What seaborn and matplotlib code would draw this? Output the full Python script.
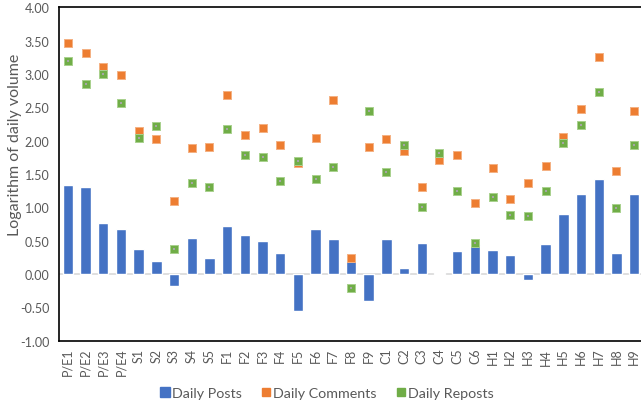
import matplotlib
matplotlib.use("Agg")
import matplotlib.pyplot as plt
import seaborn as sns
import pandas as pd
from matplotlib.lines import Line2D

categories = ["P/E1", "P/E2", "P/E3", "P/E4", "S1", "S2", "S3", "S4", "S5",
              "F1", "F2", "F3", "F4", "F5", "F6", "F7", "F8", "F9",
              "C1", "C2", "C3", "C4", "C5", "C6",
              "H1", "H2", "H3", "H4", "H5", "H6", "H7", "H8", "H9"]
daily_posts = [1.33, 1.30, 0.76, 0.68, 0.37, 0.19, -0.18, 0.54, 0.24,
               0.72, 0.59, 0.49, 0.32, -0.55, 0.67, 0.52, 0.28, -0.40,
               0.52, 0.09, 0.46, 0.02, 0.34, 0.44,
               0.355, 0.28, -0.09, 0.45, 0.90, 1.20, 1.42, 0.32, 1.20]
daily_comments = [3.47, 3.31, 3.10, 2.99, 2.14, 2.03, 1.10, 1.89, 1.91,
                  2.69, 2.08, 2.19, 1.94, 1.66, 2.04, 2.61, 0.235, 1.90,
                  2.02, 1.84, 1.30, 1.71, 1.79, 1.06,
                  1.59, 1.12, 1.36, 1.62, 2.05, 2.47, 3.26, 1.55, 2.45]
daily_reposts = [3.20, 2.85, 3.00, 2.56, 2.04, 2.22, 0.37, 1.37, 1.30,
                 2.18, 1.78, 1.75, 1.40, 1.69, 1.43, 1.61, -0.21, 2.45,
                 1.53, 1.94, 1.01, 1.82, 1.24, 0.46,
                 1.16, 0.88, 0.87, 1.24, 1.96, 2.24, 2.73, 0.99, 1.94]
y_ticks = [-1.0, -0.5, 0.0, 0.5, 1.0, 1.5, 2.0, 2.5, 3.0, 3.5, 4.0]

BLUE = "#4472C4"
ORANGE = "#ED7D31"
GREEN = "#70AD47"
GRAY = "#595959"

sns.set_style("white")
plt.rcParams["font.family"] = ["Lato", "DejaVu Sans"]

df = pd.DataFrame({"cat": categories, "posts": daily_posts,
                   "comments": daily_comments, "reposts": daily_reposts})

fig = plt.figure(figsize=(6.41, 4.06), dpi=100)
ax = fig.add_axes([59 / 641, 1 - 341.7 / 406, 584 / 641, (341.7 - 8.3) / 406])

sns.barplot(data=df, x="cat", y="posts", color=BLUE, width=0.59,
            saturation=1, ax=ax, zorder=2)
ax.axhline(0, color="#D9D9D9", lw=1.2, zorder=1)
sns.stripplot(data=df, x="cat", y="comments", color=ORANGE, marker="s",
              size=5.6, jitter=False, linewidth=0.7, edgecolor="#F4B183",
              ax=ax, zorder=3)
sns.stripplot(data=df, x="cat", y="reposts", color=GREEN, marker="s",
              size=5.6, jitter=False, linewidth=0.7, edgecolor="#A9D18E",
              ax=ax, zorder=4)
sns.stripplot(data=df, x="cat", y="reposts", color="#A5A5A5", marker="s",
              size=1.2, jitter=False, linewidth=0, ax=ax, zorder=5)

ax.set_xlim(-0.5, 32.5)
ax.set_ylim(-1.0, 4.0)
ax.set_yticks(y_ticks)
ax.set_yticklabels([f"{v:.2f}" for v in y_ticks], color=GRAY, fontsize=9)
ax.tick_params(axis="x", labelrotation=90, labelsize=9, labelcolor=GRAY,
               length=0, pad=5)
ax.tick_params(axis="y", length=0, pad=7)
ax.set_xlabel("")
ax.set_ylabel("Logarithm of daily volume", color=GRAY, fontsize=11.5)
ax.yaxis.set_label_coords(-37 / 584, 0.59)

for side in ["left", "bottom", "top"]:
    ax.spines[side].set_color("black")
    ax.spines[side].set_linewidth(1.2)
ax.spines["right"].set_visible(False)

handles = [
    Line2D([], [], marker="s", ls="", color=BLUE, markersize=7),
    Line2D([], [], marker="s", ls="", color=ORANGE, markersize=5.2),
    Line2D([], [], marker="s", ls="", color=GREEN, markersize=5.2),
]
fig.legend(handles, ["Daily Posts", "Daily Comments", "Daily Reposts"],
           loc="center", bbox_to_anchor=(326 / 641, 1 - 394 / 406), ncol=3,
           frameon=False, fontsize=10.3, labelcolor=GRAY, handletextpad=0.0,
           columnspacing=1.2, handlelength=1.0)

fig.savefig("out.png", dpi=100)
